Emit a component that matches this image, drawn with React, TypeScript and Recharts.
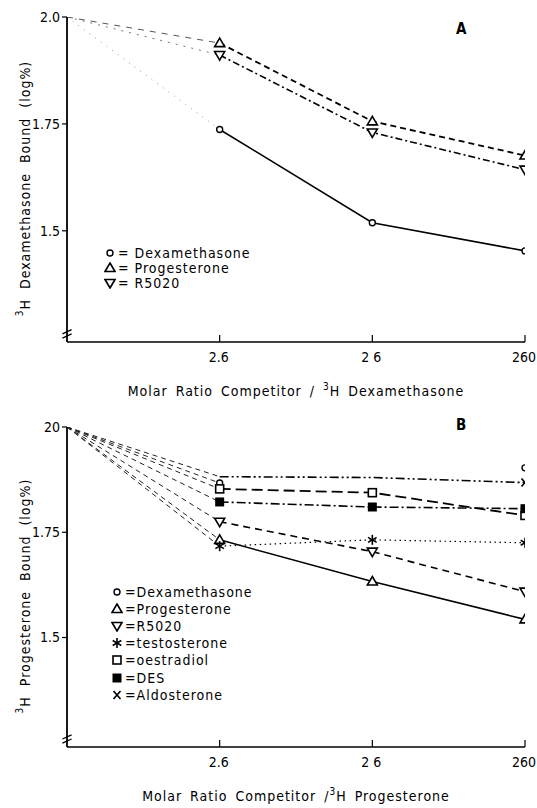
import React from "react";
import { LineChart, Line, XAxis, YAxis, Legend, ReferenceLine } from "recharts";

const FONT = '"DejaVu Sans Condensed", "Liberation Sans Narrow", "DejaVu Sans", sans-serif';

// x positions: 0 = no competitor (100% bound), 1..3 = molar ratios
const xPositions = [0, 1, 2, 3];
const xTicks = [1, 2, 3];
const xTickLabels = ["2.6", "2 6", "260"];
const yTicks = [1.5, 1.75, 2.0];
const yTickLabelsA = ["1.5", "1.75", "2.0"];
const yTickLabelsB = ["1.5", "1.75", "20"];

// panel A — 3H dexamethasone
const dexA = [2.0, 1.737, 1.519, 1.453];
const progA = [2.0, 1.939, 1.756, 1.676];
const r5020A = [2.0, 1.911, 1.73, 1.643];

// panel B — 3H progesterone
const dexB = [2.0, 1.867, null, 1.903];
const progB = [2.0, 1.732, 1.633, 1.543];
const r5020B = [2.0, 1.775, 1.704, 1.609];
const testoB = [2.0, 1.717, 1.732, 1.725];
const oestB = [2.0, 1.853, 1.844, 1.79];
const desB = [2.0, 1.822, 1.81, 1.806];
const aldoB = [2.0, 1.882, 1.88, 1.868];

type Shape = "circle" | "up" | "down" | "star" | "square" | "filled" | "cross";

type Series = {
  key: string;
  name: string;
  values: (number | null)[];
  marker: Shape;
  dash?: string;
  width?: number;
  noLine?: boolean;
  markLast?: boolean;
  leadDash: string;
  leadColor: string;
  leadWidth?: number;
};

const seriesA: Series[] = [
  { key: "dex", name: "Dexamethasone", values: dexA, marker: "circle", width: 1.6, leadDash: "1 6", leadColor: "#999" },
  { key: "prog", name: "Progesterone", values: progA, marker: "up", dash: "6 4", width: 1.8, leadDash: "6 6", leadColor: "#555" },
  { key: "r5020", name: "R5020", values: r5020A, marker: "down", dash: "7 3 2 3", width: 1.6, leadDash: "2 6", leadColor: "#777" },
];

const seriesB: Series[] = [
  { key: "dex", name: "Dexamethasone", values: dexB, marker: "circle", noLine: true, leadDash: "5 4", leadColor: "#222" },
  { key: "prog", name: "Progesterone", values: progB, marker: "up", width: 1.6, leadDash: "5 4", leadColor: "#222" },
  { key: "r5020", name: "R5020", values: r5020B, marker: "down", dash: "7 5", width: 1.6, leadDash: "5 4", leadColor: "#222" },
  { key: "testo", name: "testosterone", values: testoB, marker: "star", dash: "1.5 3.5", width: 1.2, leadDash: "5 4", leadColor: "#222" },
  { key: "oest", name: "oestradiol", values: oestB, marker: "square", dash: "11 5", width: 1.8, leadDash: "5 4", leadColor: "#222" },
  { key: "des", name: "DES", values: desB, marker: "filled", dash: "9 3 2 3", width: 1.6, leadDash: "5 4", leadColor: "#222" },
  { key: "aldo", name: "Aldosterone", values: aldoB, marker: "cross", dash: "9 3 2 3 2 3", width: 1.6, markLast: true, leadDash: "5 4", leadColor: "#222" },
];

function buildRows(series: Series[]) {
  return xPositions.map((x, i) => {
    const row: Record<string, number | null> = { x };
    series.forEach((s) => {
      row[s.key + "Lead"] = i <= 1 ? s.values[i] : null;
      row[s.key] = i >= 1 ? s.values[i] : null;
    });
    return row;
  });
}

function Marker({ shape, cx, cy }: { shape: Shape; cx: number; cy: number }) {
  switch (shape) {
    case "circle":
      return <circle cx={cx} cy={cy} r={3} fill="#fff" stroke="#000" strokeWidth={1.4} />;
    case "up":
      return <path d={`M${cx},${cy - 5} L${cx + 5},${cy + 3.5} L${cx - 5},${cy + 3.5} Z`} fill="#fff" stroke="#000" strokeWidth={1.6} />;
    case "down":
      return <path d={`M${cx},${cy + 5} L${cx + 5},${cy - 3.5} L${cx - 5},${cy - 3.5} Z`} fill="#fff" stroke="#000" strokeWidth={1.6} />;
    case "star":
      return (
        <g stroke="#000" strokeWidth={1.6}>
          <line x1={cx} y1={cy - 5} x2={cx} y2={cy + 5} />
          <line x1={cx - 4.3} y1={cy - 2.5} x2={cx + 4.3} y2={cy + 2.5} />
          <line x1={cx - 4.3} y1={cy + 2.5} x2={cx + 4.3} y2={cy - 2.5} />
        </g>
      );
    case "square":
      return <rect x={cx - 4} y={cy - 4} width={8} height={8} fill="#fff" stroke="#000" strokeWidth={1.6} />;
    case "filled":
      return <rect x={cx - 4.5} y={cy - 4.5} width={9} height={9} fill="#000" />;
    case "cross":
      return (
        <g stroke="#000" strokeWidth={1.6}>
          <line x1={cx - 3.5} y1={cy - 4} x2={cx + 3.5} y2={cy + 4} />
          <line x1={cx - 3.5} y1={cy + 4} x2={cx + 3.5} y2={cy - 4} />
        </g>
      );
  }
  return null;
}

const dotFor = (s: Series) => (props: any) => {
  const { cx, cy, value, index } = props;
  const k = `${s.key}-${index}`;
  if (cx == null || cy == null || value == null) return <g key={k} />;
  if (s.markLast && index !== xPositions.length - 1) return <g key={k} />;
  return (
    <g key={k}>
      <Marker shape={s.marker} cx={cx} cy={cy} />
    </g>
  );
};

function LegendBox({ series, rowHeight, eq }: { series: Series[]; rowHeight: number; eq: string }) {
  return (
    <div style={{ fontFamily: FONT, fontSize: 14, letterSpacing: 1, color: "#000" }}>
      {series.map((s) => (
        <div key={s.key} style={{ display: "flex", alignItems: "center", height: rowHeight, whiteSpace: "nowrap" }}>
          <svg width={12} height={12} style={{ marginRight: 2 }}>
            <Marker shape={s.marker} cx={6} cy={6} />
          </svg>
          <span>
            {eq}
            {s.name}
          </span>
        </div>
      ))}
    </div>
  );
}

const XTick = (props: any) => {
  const { x, y, payload } = props;
  const label = xTickLabels[xTicks.indexOf(payload.value)];
  return (
    <g>
      <line x1={x} y1={y} x2={x} y2={y - 7} stroke="#000" strokeWidth={1.2} />
      <text x={x - 1} y={y + 20} textAnchor="middle" fontFamily={FONT} fontSize={14} fill="#000">
        {label}
      </text>
    </g>
  );
};

type PanelProps = {
  series: Series[];
  height: number;
  xAxisHeight: number;
  yTickLabels: string[];
  yTitle: string;
  xTitle: string;
  xTitleEnd: string;
  letter: string;
  legendLeft: number;
  legendTop: number;
  legendRow: number;
  eq: string;
};

function Panel(p: PanelProps) {
  const rows = buildRows(p.series);
  return (
    <div style={{ position: "relative", width: 537, height: p.height }}>
      <LineChart width={537} height={p.height} data={rows} margin={{ top: 17, right: 12, bottom: 0, left: 0 }}>
        <XAxis
          type="number"
          dataKey="x"
          domain={[0, 3]}
          ticks={xTicks}
          tick={XTick}
          tickLine={false}
          tickSize={0}
          tickMargin={0}
          height={p.xAxisHeight}
          axisLine={{ stroke: "#000", strokeWidth: 1.6 }}
          allowDataOverflow
          label={{
            content: (lp: any) => {
              const vb = lp.viewBox;
              return (
                <text
                  x={vb.x + vb.width / 2}
                  y={vb.y + 54}
                  textAnchor="middle"
                  fontFamily={FONT}
                  fontSize={14}
                  letterSpacing={1}
                  wordSpacing={3}
                  fill="#000"
                >
                  {p.xTitle}
                  <tspan fontSize={10} dy={-6}>3</tspan>
                  <tspan dy={6}>H {p.xTitleEnd}</tspan>
                </text>
              );
            },
          }}
        />
        <YAxis
          type="number"
          domain={[1.24, 2.0]}
          ticks={yTicks}
          tickFormatter={(v: number) => p.yTickLabels[yTicks.indexOf(v)]}
          tick={{ fontSize: 14, fill: "#000", fontFamily: FONT }}
          tickLine={{ stroke: "#000", strokeWidth: 1.2 }}
          tickSize={5}
          width={67}
          axisLine={{ stroke: "#000", strokeWidth: 1.8 }}
          allowDataOverflow
          label={{
            content: (lp: any) => {
              const vb = lp.viewBox;
              const cx = vb.x + 25;
              const cy = vb.y + vb.height / 2 + 9;
              return (
                <text
                  x={cx}
                  y={cy}
                  transform={`rotate(-90 ${cx} ${cy})`}
                  textAnchor="middle"
                  dominantBaseline="central"
                  fontFamily={FONT}
                  fontSize={14}
                  letterSpacing={1}
                  wordSpacing={5}
                  fill="#000"
                >
                  <tspan fontSize={10} dy={-6}>3</tspan>
                  <tspan dy={6}>H {p.yTitle}</tspan>
                </text>
              );
            },
          }}
        />
        <ReferenceLine
          segment={[{ x: -0.03, y: 1.249 }, { x: 0.03, y: 1.259 }]}
          stroke="#000"
          strokeWidth={1.3}
          ifOverflow="visible"
        />
        <ReferenceLine
          segment={[{ x: -0.03, y: 1.259 }, { x: 0.03, y: 1.269 }]}
          stroke="#000"
          strokeWidth={1.3}
          ifOverflow="visible"
        />
        {p.series.map((s) => (
          <Line
            key={s.key + "Lead"}
            type="linear"
            dataKey={s.key + "Lead"}
            stroke={s.leadColor}
            strokeWidth={s.leadWidth ?? 1}
            strokeDasharray={s.leadDash}
            dot={false}
            activeDot={false}
            legendType="none"
            isAnimationActive={false}
          />
        ))}
        {p.series.map((s) => (
          <Line
            key={s.key}
            type="linear"
            dataKey={s.key}
            name={s.name}
            stroke={s.noLine ? "none" : "#000"}
            strokeWidth={s.width ?? 1.6}
            strokeDasharray={s.dash}
            dot={dotFor(s)}
            activeDot={false}
            isAnimationActive={false}
          />
        ))}
        <Legend
          layout="horizontal"
          verticalAlign="middle"
          align="center"
          wrapperStyle={{ left: p.legendLeft, top: p.legendTop, width: "auto" }}
          content={() => <LegendBox series={p.series} rowHeight={p.legendRow} eq={p.eq} />}
        />
      </LineChart>
      <div
        style={{
          position: "absolute",
          left: 456,
          top: p.letter === "A" ? 20 : 6,
          fontFamily: FONT,
          fontSize: 15,
          fontWeight: "bold",
        }}
      >
        {p.letter}
      </div>
    </div>
  );
}

export default function App() {
  return (
    <div style={{ position: "absolute", left: 0, top: 0, width: 537, height: 808, background: "#fff" }}>
      <Panel
        series={seriesA}
        height={410}
        xAxisHeight={68}
        yTickLabels={yTickLabelsA}
        yTitle="Dexamethasone  Bound  (log%)"
        xTitle="Molar  Ratio  Competitor / "
        xTitleEnd="Dexamethasone"
        letter="A"
        legendLeft={104}
        legendTop={245}
        legendRow={15}
        eq=" = "
      />
      <Panel
        series={seriesB}
        height={398}
        xAxisHeight={61}
        yTickLabels={yTickLabelsB}
        yTitle="Progesterone  Bound  (log%)"
        xTitle="Molar  Ratio  Competitor /"
        xTitleEnd="Progesterone"
        letter="B"
        legendLeft={111}
        legendTop={173}
        legendRow={17.2}
        eq="="
      />
    </div>
  );
}
